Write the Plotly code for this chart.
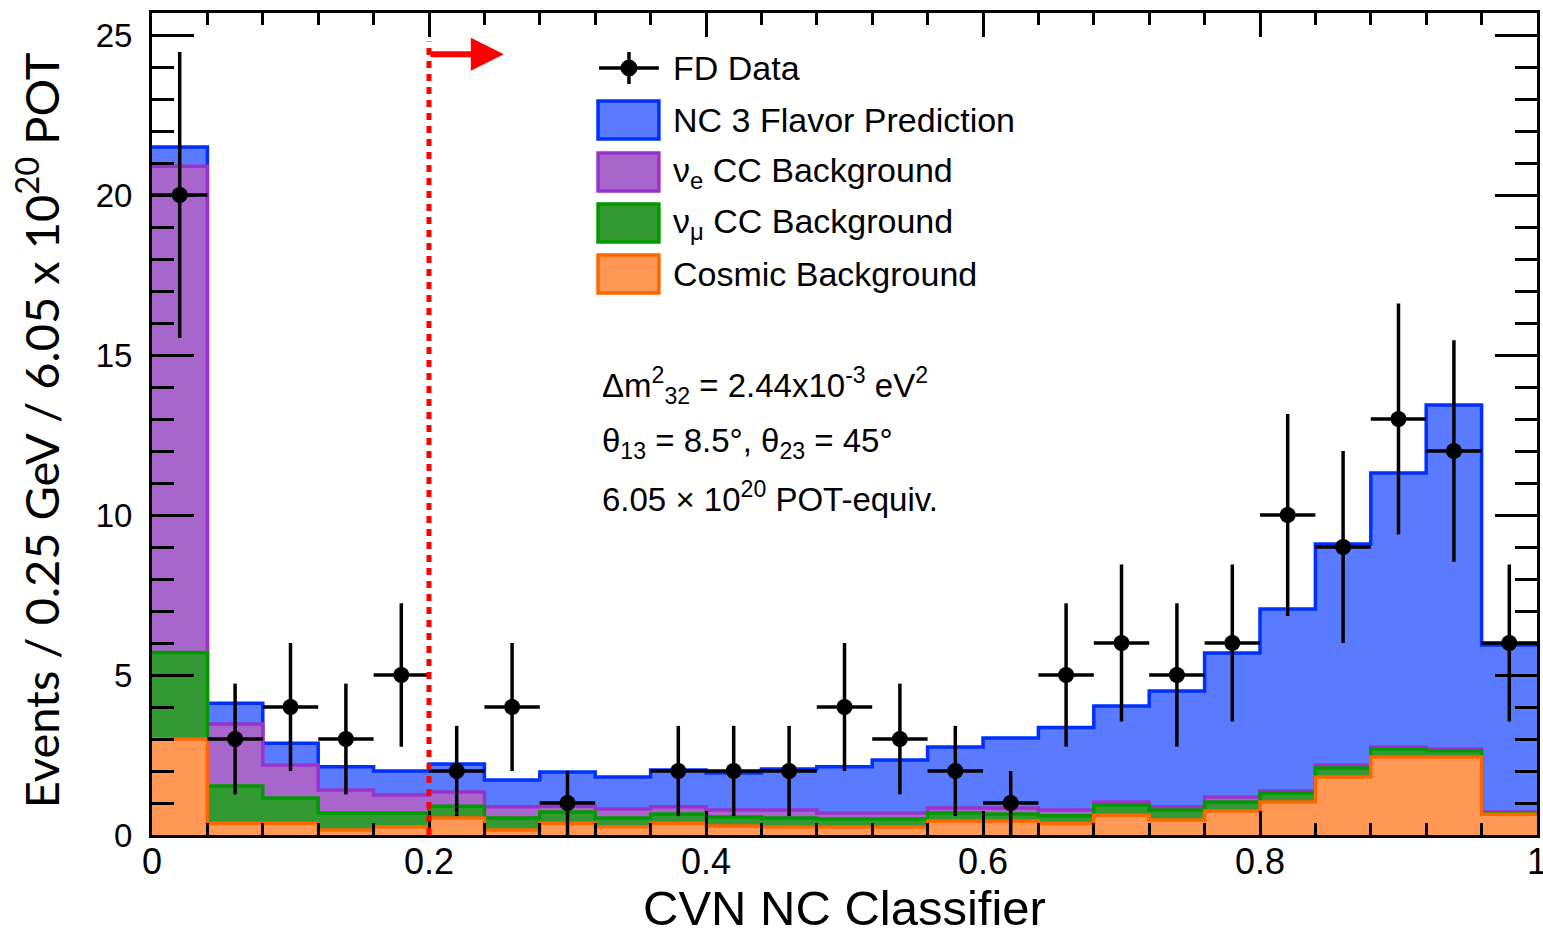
import plotly.graph_objects as go
import numpy as np

# ---------------- data ----------------
bin_edges = [0.00, 0.04, 0.08, 0.12, 0.16, 0.20, 0.24, 0.28, 0.32, 0.36, 0.40, 0.44, 0.48,
             0.52, 0.56, 0.60, 0.64, 0.68, 0.72, 0.76, 0.80, 0.84, 0.88, 0.92, 0.96, 1.00]
bin_centers = [0.02, 0.06, 0.10, 0.14, 0.18, 0.22, 0.26, 0.30, 0.34, 0.38, 0.42, 0.46, 0.50,
               0.54, 0.58, 0.62, 0.66, 0.70, 0.74, 0.78, 0.82, 0.86, 0.90, 0.94, 0.98]

cosmic_bkg = [3.00, 0.37, 0.37, 0.16, 0.26, 0.53, 0.16, 0.37, 0.26, 0.37, 0.28, 0.25, 0.25,
              0.25, 0.44, 0.44, 0.37, 0.62, 0.47, 0.75, 1.03, 1.81, 2.44, 2.44, 0.65]
numu_cc_bkg = [2.70, 1.16, 0.79, 0.53, 0.43, 0.37, 0.37, 0.35, 0.27, 0.29, 0.28, 0.28, 0.25,
               0.25, 0.25, 0.22, 0.23, 0.32, 0.31, 0.28, 0.28, 0.28, 0.25, 0.19, 0.03]
nue_cc_bkg = [15.20, 1.94, 1.03, 0.72, 0.56, 0.44, 0.35, 0.18, 0.28, 0.22, 0.22, 0.25, 0.19,
              0.19, 0.15, 0.18, 0.18, 0.09, 0.10, 0.16, 0.07, 0.10, 0.06, 0.06, 0.04]
nc_prediction = [0.60, 0.65, 0.68, 0.72, 0.75, 0.88, 0.84, 1.07, 1.00, 1.15, 1.16, 1.28, 1.44,
                 1.65, 1.91, 2.19, 2.58, 3.00, 3.62, 4.50, 5.68, 6.90, 8.56, 10.75, 5.22]

fd_data = [20, 3, 4, 3, 5, 2, 4, 1, 0, 2, 2, 2, 4, 3, 2, 1, 5, 6, 5, 6, 10, 9, 13, 12, 6]
fd_err = [4.47, 1.73, 2.00, 1.73, 2.24, 1.41, 2.00, 1.00, 0.00, 1.41, 1.41, 1.41, 2.00,
          1.73, 1.41, 1.00, 2.24, 2.45, 2.24, 2.45, 3.16, 3.00, 3.61, 3.46, 2.45]
bin_half_width = 0.02

x_tick_vals = [0, 0.2, 0.4, 0.6, 0.8, 1]
x_tick_text = ["0", "0.2", "0.4", "0.6", "0.8", "1"]

legend_labels = ["FD Data", "NC 3 Flavor Prediction", "ν<sub>e</sub> CC Background",
                 "ν<sub>μ</sub> CC Background", "Cosmic Background"]

# ---------------- styling ----------------
W, H = 1543, 934
L, R, T, B = 152, 3, 13, 99
PW, PH = W - L - R, H - T - B


def px(x):
    return (x - L) / PW


def py(y):
    return (H - B - y) / PH


BLUE_F, BLUE_L = "#5a7aff", "#0030ff"
PURP_F, PURP_L = "#a866cc", "#9933cc"
GREEN_F, GREEN_L = "#339933", "#009900"
ORNG_F, ORNG_L = "#ff9955", "#ff6600"

c1 = np.array(cosmic_bkg)
c2 = c1 + np.array(numu_cc_bkg)
c3 = c2 + np.array(nue_cc_bkg)
c4 = c3 + np.array(nc_prediction)

fig = go.Figure()


def step(vals, fillc, linec, name):
    y = list(vals) + [vals[-1]]
    fig.add_trace(go.Scatter(x=bin_edges, y=y, mode="lines", name=name,
                             line=dict(shape="hv", color=linec, width=3.5),
                             fill="tozeroy", fillcolor=fillc, showlegend=False,
                             hoverinfo="skip"))


step(c4, BLUE_F, BLUE_L, legend_labels[1])
step(c3, PURP_F, PURP_L, legend_labels[2])
step(c2, GREEN_F, GREEN_L, legend_labels[3])
step(c1, ORNG_F, ORNG_L, legend_labels[4])

xs = [c for c, d in zip(bin_centers, fd_data) if d > 0]
ys = [d for d in fd_data if d > 0]
es = [e for e, d in zip(fd_err, fd_data) if d > 0]
fig.add_trace(go.Scatter(
    x=xs, y=ys, mode="markers", name=legend_labels[0], showlegend=False,
    marker=dict(color="black", size=16, symbol="circle"),
    error_y=dict(type="data", array=es, visible=True, color="black", thickness=3.5, width=0),
    error_x=dict(type="constant", value=bin_half_width, visible=True, color="black",
                 thickness=3.5, width=0),
))

shapes = []
# red dotted cut line
shapes.append(dict(type="line", xref="x", yref="y", x0=0.2, x1=0.2, y0=0, y1=24.8,
                   line=dict(color="#ff0000", width=5, dash="7px,6px"), layer="above"))

# legend
rows = [68, 120, 172, 223, 274]
shapes.append(dict(type="line", xref="paper", yref="paper", x0=px(600), x1=px(660),
                   y0=py(rows[0]), y1=py(rows[0]), line=dict(color="black", width=3.5)))
shapes.append(dict(type="line", xref="paper", yref="paper", x0=px(630), x1=px(630),
                   y0=py(rows[0] - 16), y1=py(rows[0] + 16), line=dict(color="black", width=3.5)))
shapes.append(dict(type="circle", xref="paper", yref="paper", x0=px(622), x1=px(638),
                   y0=py(rows[0] + 8), y1=py(rows[0] - 8), fillcolor="black",
                   line=dict(color="black", width=1)))
for r, (fc, lc) in zip(rows[1:], [(BLUE_F, BLUE_L), (PURP_F, PURP_L), (GREEN_F, GREEN_L),
                                  (ORNG_F, ORNG_L)]):
    shapes.append(dict(type="rect", xref="paper", yref="paper", x0=px(599), x1=px(660),
                       y0=py(r + 19), y1=py(r - 19), fillcolor=fc,
                       line=dict(color=lc, width=3.5)))

annotations = []
for r, txt in zip(rows, legend_labels):
    annotations.append(dict(xref="paper", yref="paper", x=px(672), y=py(r), text=txt,
                            showarrow=False, xanchor="left", yanchor="middle",
                            font=dict(family="Liberation Sans", size=34, color="black")))

# parameter text
param_lines = ["Δm<sup>2</sup><sub>32</sub> = 2.44x10<sup>-3</sup> eV<sup>2</sup>",
               "θ<sub>13</sub> = 8.5°, θ<sub>23</sub> = 45°",
               "6.05 × 10<sup>20</sup> POT-equiv."]
for yy, txt in zip([385, 443, 497], param_lines):
    annotations.append(dict(xref="paper", yref="paper", x=px(601), y=py(yy), text=txt,
                            showarrow=False, xanchor="left", yanchor="middle",
                            font=dict(family="Liberation Sans", size=33, color="black")))

# x tick labels (placed at the axis values)
for v, t in zip(x_tick_vals, x_tick_text):
    annotations.append(dict(xref="x", yref="paper", x=v, y=py(862), text=t,
                            showarrow=False, xanchor="center", yanchor="middle",
                            font=dict(family="Liberation Sans", size=36, color="black")))

# red arrow
annotations.append(dict(xref="x", yref="y", axref="x", ayref="y", x=0.254, y=24.4,
                        ax=0.2, ay=24.4, text="", showarrow=True, arrowhead=2,
                        arrowsize=1.1, arrowwidth=6, arrowcolor="#ff0000"))

# axis titles
annotations.append(dict(xref="paper", yref="paper", x=px(38), y=py(430),
                        text="Events / 0.25 GeV / 6.05 x 10<sup>20</sup> POT",
                        textangle=-90, showarrow=False, xanchor="center", yanchor="middle",
                        font=dict(family="Lato", size=47, color="black")))
annotations.append(dict(xref="paper", yref="paper", x=px(846), y=py(908),
                        text="CVN NC Classifier", showarrow=False, xanchor="center",
                        yanchor="middle",
                        font=dict(family="Liberation Sans", size=49, color="black")))

fig.update_layout(
    width=W, height=H,
    margin=dict(l=L, r=R, t=T, b=B, pad=0),
    paper_bgcolor="white", plot_bgcolor="white",
    showlegend=False,
    shapes=shapes, annotations=annotations,
    xaxis=dict(range=[0, 1], showgrid=False, zeroline=False, showline=True,
               linecolor="black", linewidth=3, mirror="allticks", ticks="inside",
               ticklen=24, tickwidth=3, tickcolor="black", tickvals=x_tick_vals,
               showticklabels=False,
               minor=dict(dtick=0.04, ticks="inside", ticklen=12, tickwidth=2.5,
                          tickcolor="black", showgrid=False)),
    yaxis=dict(range=[0, PH / 32.0], showgrid=False, zeroline=False, showline=True,
               linecolor="black", linewidth=3, mirror="allticks", ticks="inside",
               ticklen=42, tickwidth=3, tickcolor="black", tick0=0, dtick=5,
               tickfont=dict(family="Liberation Sans", size=33, color="black"),
               ticklabelstandoff=10,
               minor=dict(dtick=1, ticks="inside", ticklen=22, tickwidth=2.5,
                          tickcolor="black", showgrid=False)),
)

fig.write_html("out.html")
